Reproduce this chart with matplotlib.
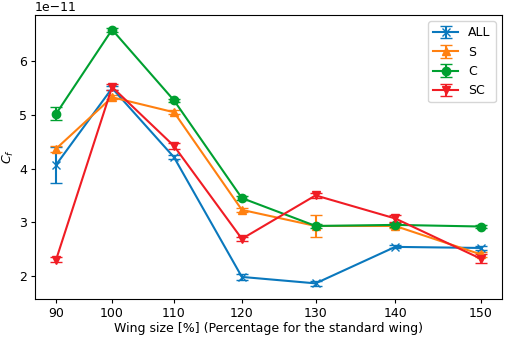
import matplotlib
matplotlib.use("Agg")
import matplotlib.pyplot as plt
import numpy as np

# Tamanho da asa (%) e coeficientes (x 1e-11)
wing_size = [90, 100, 110, 120, 130, 140, 150]

all_vals = [4.07, 5.50, 4.21, 1.98, 1.86, 2.54, 2.52]
all_err = [0.34, 0.04, 0.04, 0.06, 0.05, 0.03, 0.04]
s_vals = [4.37, 5.33, 5.05, 3.23, 2.93, 2.93, 2.40]
s_err = [0.06, 0.04, 0.04, 0.04, 0.20, 0.03, 0.04]
c_vals = [5.02, 6.59, 5.27, 3.45, 2.93, 2.95, 2.92]
c_err = [0.12, 0.04, 0.03, 0.03, 0.03, 0.03, 0.02]
sc_vals = [2.30, 5.52, 4.42, 2.69, 3.50, 3.07, 2.32]
sc_err = [0.05, 0.05, 0.05, 0.04, 0.04, 0.06, 0.08]

series = [
    ("ALL", all_vals, all_err, "x", "#0a78bd"),
    ("S", s_vals, s_err, "^", "#ff8010"),
    ("C", c_vals, c_err, "o", "#00a030"),
    ("SC", sc_vals, sc_err, "v", "#f01c24"),
]

plt.rcParams["font.size"] = 9
plt.rcParams["xtick.major.size"] = 3
plt.rcParams["ytick.major.size"] = 3
plt.rcParams["xtick.major.pad"] = 2.5
plt.rcParams["ytick.major.pad"] = 2.5

fig, ax = plt.subplots(figsize=(5.05, 3.37), dpi=100)
fig.subplots_adjust(left=0.069, right=0.994, top=0.955, bottom=0.113)

# posicao no eixo x proporcional a area da asa (tamanho ao quadrado)
area = np.array(wing_size, float) ** 2

for name, vals, err, marker, color in series:
    ax.errorbar(area, np.array(vals) * 1e-11, yerr=np.array(err) * 1e-11,
                marker=marker, color=color, label=name, capsize=4,
                markersize=6, linewidth=1.5)

ax.set_xticks(area)
ax.set_xticklabels([str(w) for w in wing_size])
ax.set_yticks(np.array([2, 3, 4, 5, 6]) * 1e-11)
ax.set_ylim(1.57e-11, 6.86e-11)
ax.set_xlabel("Wing size [%] (Percentage for the standard wing)", labelpad=2)
ax.set_ylabel("$C_f$", labelpad=2)
ax.legend(loc="upper right")

plt.savefig("out.png")
plt.close()
